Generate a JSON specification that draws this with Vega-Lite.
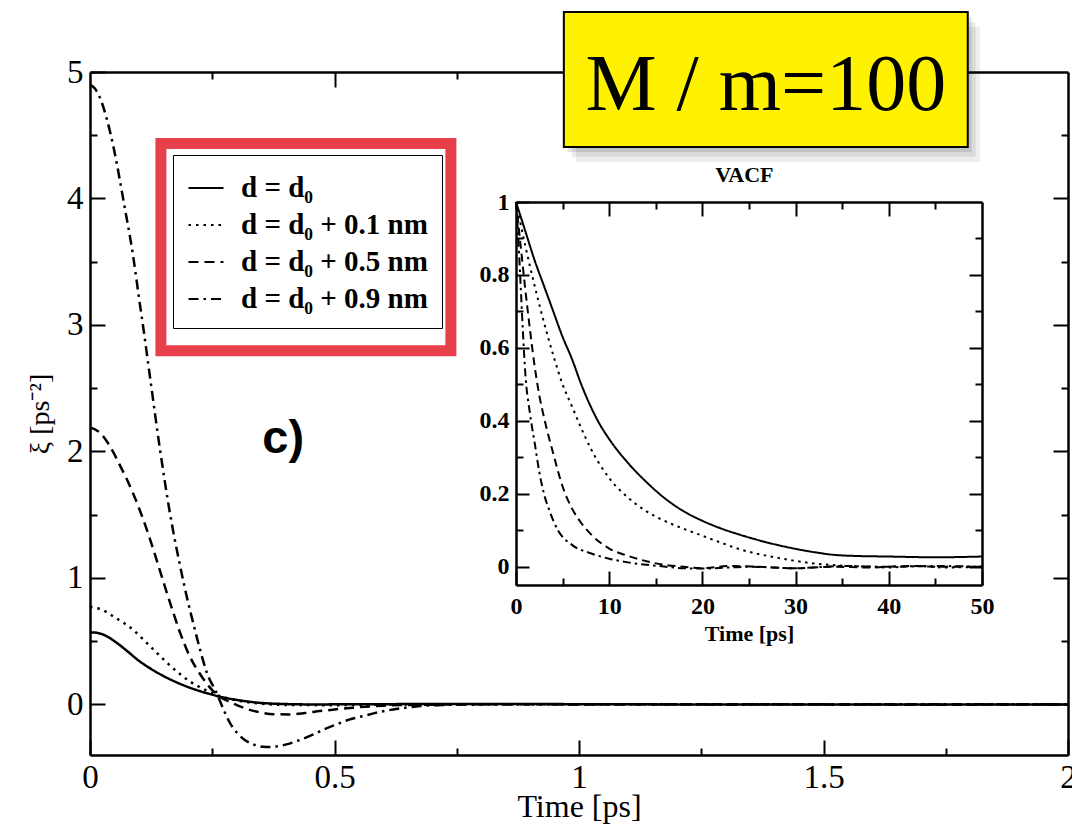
{
  "$schema": "https://vega.github.io/schema/vega-lite/v6.json",
  "width": 978,
  "height": 683,
  "autosize": "none",
  "padding": {"left": 90, "top": 72, "right": 4, "bottom": 73},
  "background": "white",
  "config": {
    "view": {"stroke": null},
    "axis": {
      "grid": false, "domainColor": "black", "domainWidth": 2.5, "tickColor": "black", "tickWidth": 2,
      "labelColor": "black", "titleColor": "black", "labelFont": "Liberation Serif", "titleFont": "Liberation Serif",
      "labelFlush": false, "labelOverlap": false, "titleFontWeight": "normal"
    }
  },
  "datasets": {
    "main": [
      {"series": "d = d₀", "t": 0, "v": 0.57}, {"series": "d = d₀", "t": 0.0125, "v": 0.567}, {"series": "d = d₀", "t": 0.025, "v": 0.555}, {"series": "d = d₀", "t": 0.0375, "v": 0.532}, {"series": "d = d₀", "t": 0.05, "v": 0.5},
      {"series": "d = d₀", "t": 0.075, "v": 0.425}, {"series": "d = d₀", "t": 0.1, "v": 0.345}, {"series": "d = d₀", "t": 0.125, "v": 0.28},
      {"series": "d = d₀", "t": 0.15, "v": 0.225}, {"series": "d = d₀", "t": 0.175, "v": 0.178}, {"series": "d = d₀", "t": 0.2, "v": 0.138},
      {"series": "d = d₀", "t": 0.225, "v": 0.105}, {"series": "d = d₀", "t": 0.25, "v": 0.077}, {"series": "d = d₀", "t": 0.275, "v": 0.053},
      {"series": "d = d₀", "t": 0.3, "v": 0.036}, {"series": "d = d₀", "t": 0.34, "v": 0.015}, {"series": "d = d₀", "t": 0.39, "v": 0.004},
      {"series": "d = d₀", "t": 0.45, "v": 0}, {"series": "d = d₀", "t": 0.6, "v": 0.002}, {"series": "d = d₀", "t": 0.8, "v": 0.003},
      {"series": "d = d₀", "t": 1.0, "v": 0.002}, {"series": "d = d₀", "t": 1.2, "v": 0}, {"series": "d = d₀", "t": 1.5, "v": 0},
      {"series": "d = d₀", "t": 1.8, "v": 0}, {"series": "d = d₀", "t": 2, "v": 0},

      {"series": "d = d₀ + 0.1 nm", "t": 0, "v": 0.77}, {"series": "d = d₀ + 0.1 nm", "t": 0.02, "v": 0.755}, {"series": "d = d₀ + 0.1 nm", "t": 0.05, "v": 0.69},
      {"series": "d = d₀ + 0.1 nm", "t": 0.088, "v": 0.59}, {"series": "d = d₀ + 0.1 nm", "t": 0.11, "v": 0.51}, {"series": "d = d₀ + 0.1 nm", "t": 0.136, "v": 0.41},
      {"series": "d = d₀ + 0.1 nm", "t": 0.16, "v": 0.32}, {"series": "d = d₀ + 0.1 nm", "t": 0.184, "v": 0.24}, {"series": "d = d₀ + 0.1 nm", "t": 0.205, "v": 0.18},
      {"series": "d = d₀ + 0.1 nm", "t": 0.225, "v": 0.135}, {"series": "d = d₀ + 0.1 nm", "t": 0.252, "v": 0.085}, {"series": "d = d₀ + 0.1 nm", "t": 0.28, "v": 0.05},
      {"series": "d = d₀ + 0.1 nm", "t": 0.31, "v": 0.025}, {"series": "d = d₀ + 0.1 nm", "t": 0.35, "v": 0.006}, {"series": "d = d₀ + 0.1 nm", "t": 0.4, "v": -0.004},
      {"series": "d = d₀ + 0.1 nm", "t": 0.5, "v": -0.006}, {"series": "d = d₀ + 0.1 nm", "t": 0.6, "v": -0.002}, {"series": "d = d₀ + 0.1 nm", "t": 0.7, "v": 0},
      {"series": "d = d₀ + 0.1 nm", "t": 1.0, "v": 0.002}, {"series": "d = d₀ + 0.1 nm", "t": 1.3, "v": 0}, {"series": "d = d₀ + 0.1 nm", "t": 1.6, "v": 0},
      {"series": "d = d₀ + 0.1 nm", "t": 2, "v": 0},

      {"series": "d = d₀ + 0.5 nm", "t": 0, "v": 2.19}, {"series": "d = d₀ + 0.5 nm", "t": 0.02, "v": 2.15}, {"series": "d = d₀ + 0.5 nm", "t": 0.041, "v": 2.04},
      {"series": "d = d₀ + 0.5 nm", "t": 0.06, "v": 1.9}, {"series": "d = d₀ + 0.5 nm", "t": 0.088, "v": 1.67}, {"series": "d = d₀ + 0.5 nm", "t": 0.11, "v": 1.45},
      {"series": "d = d₀ + 0.5 nm", "t": 0.13, "v": 1.22}, {"series": "d = d₀ + 0.5 nm", "t": 0.15, "v": 0.97}, {"series": "d = d₀ + 0.5 nm", "t": 0.17, "v": 0.73},
      {"series": "d = d₀ + 0.5 nm", "t": 0.184, "v": 0.57}, {"series": "d = d₀ + 0.5 nm", "t": 0.204, "v": 0.38}, {"series": "d = d₀ + 0.5 nm", "t": 0.225, "v": 0.24},
      {"series": "d = d₀ + 0.5 nm", "t": 0.252, "v": 0.105}, {"series": "d = d₀ + 0.5 nm", "t": 0.27, "v": 0.05}, {"series": "d = d₀ + 0.5 nm", "t": 0.286, "v": 0.02},
      {"series": "d = d₀ + 0.5 nm", "t": 0.32, "v": -0.035}, {"series": "d = d₀ + 0.5 nm", "t": 0.35, "v": -0.065}, {"series": "d = d₀ + 0.5 nm", "t": 0.375, "v": -0.078},
      {"series": "d = d₀ + 0.5 nm", "t": 0.409, "v": -0.079}, {"series": "d = d₀ + 0.5 nm", "t": 0.44, "v": -0.068}, {"series": "d = d₀ + 0.5 nm", "t": 0.47, "v": -0.053},
      {"series": "d = d₀ + 0.5 nm", "t": 0.5, "v": -0.04}, {"series": "d = d₀ + 0.5 nm", "t": 0.538, "v": -0.026}, {"series": "d = d₀ + 0.5 nm", "t": 0.6, "v": -0.01},
      {"series": "d = d₀ + 0.5 nm", "t": 0.7, "v": -0.002}, {"series": "d = d₀ + 0.5 nm", "t": 0.8, "v": 0.002}, {"series": "d = d₀ + 0.5 nm", "t": 1.0, "v": 0},
      {"series": "d = d₀ + 0.5 nm", "t": 1.2, "v": 0.002}, {"series": "d = d₀ + 0.5 nm", "t": 1.5, "v": 0}, {"series": "d = d₀ + 0.5 nm", "t": 1.7, "v": -0.002},
      {"series": "d = d₀ + 0.5 nm", "t": 2, "v": 0},

      {"series": "d = d₀ + 0.9 nm", "t": 0, "v": 4.9}, {"series": "d = d₀ + 0.9 nm", "t": 0.01, "v": 4.87}, {"series": "d = d₀ + 0.9 nm", "t": 0.02, "v": 4.8},
      {"series": "d = d₀ + 0.9 nm", "t": 0.035, "v": 4.62}, {"series": "d = d₀ + 0.9 nm", "t": 0.05, "v": 4.37}, {"series": "d = d₀ + 0.9 nm", "t": 0.07, "v": 3.95},
      {"series": "d = d₀ + 0.9 nm", "t": 0.088, "v": 3.55}, {"series": "d = d₀ + 0.9 nm", "t": 0.1, "v": 3.22}, {"series": "d = d₀ + 0.9 nm", "t": 0.11, "v": 2.95},
      {"series": "d = d₀ + 0.9 nm", "t": 0.123, "v": 2.58}, {"series": "d = d₀ + 0.9 nm", "t": 0.143, "v": 2.02}, {"series": "d = d₀ + 0.9 nm", "t": 0.164, "v": 1.5},
      {"series": "d = d₀ + 0.9 nm", "t": 0.184, "v": 1.1}, {"series": "d = d₀ + 0.9 nm", "t": 0.198, "v": 0.85}, {"series": "d = d₀ + 0.9 nm", "t": 0.211, "v": 0.645},
      {"series": "d = d₀ + 0.9 nm", "t": 0.225, "v": 0.434}, {"series": "d = d₀ + 0.9 nm", "t": 0.239, "v": 0.25}, {"series": "d = d₀ + 0.9 nm", "t": 0.259, "v": 0.09},
      {"series": "d = d₀ + 0.9 nm", "t": 0.273, "v": -0.04}, {"series": "d = d₀ + 0.9 nm", "t": 0.286, "v": -0.145}, {"series": "d = d₀ + 0.9 nm", "t": 0.307, "v": -0.25},
      {"series": "d = d₀ + 0.9 nm", "t": 0.334, "v": -0.316}, {"series": "d = d₀ + 0.9 nm", "t": 0.355, "v": -0.335}, {"series": "d = d₀ + 0.9 nm", "t": 0.368, "v": -0.337},
      {"series": "d = d₀ + 0.9 nm", "t": 0.385, "v": -0.33}, {"series": "d = d₀ + 0.9 nm", "t": 0.402, "v": -0.316}, {"series": "d = d₀ + 0.9 nm", "t": 0.43, "v": -0.28},
      {"series": "d = d₀ + 0.9 nm", "t": 0.457, "v": -0.237}, {"series": "d = d₀ + 0.9 nm", "t": 0.48, "v": -0.195}, {"series": "d = d₀ + 0.9 nm", "t": 0.504, "v": -0.158},
      {"series": "d = d₀ + 0.9 nm", "t": 0.53, "v": -0.12}, {"series": "d = d₀ + 0.9 nm", "t": 0.559, "v": -0.092}, {"series": "d = d₀ + 0.9 nm", "t": 0.59, "v": -0.062},
      {"series": "d = d₀ + 0.9 nm", "t": 0.62, "v": -0.04}, {"series": "d = d₀ + 0.9 nm", "t": 0.65, "v": -0.024}, {"series": "d = d₀ + 0.9 nm", "t": 0.675, "v": -0.013},
      {"series": "d = d₀ + 0.9 nm", "t": 0.72, "v": -0.005}, {"series": "d = d₀ + 0.9 nm", "t": 0.8, "v": 0}, {"series": "d = d₀ + 0.9 nm", "t": 1.0, "v": 0.002},
      {"series": "d = d₀ + 0.9 nm", "t": 1.3, "v": 0}, {"series": "d = d₀ + 0.9 nm", "t": 1.6, "v": 0.002}, {"series": "d = d₀ + 0.9 nm", "t": 2, "v": 0}
    ],
    "inset": [
      {"series": "d = d₀", "t": 0, "v": 1}, {"series": "d = d₀", "t": 1, "v": 0.92}, {"series": "d = d₀", "t": 2, "v": 0.84},
      {"series": "d = d₀", "t": 3, "v": 0.77}, {"series": "d = d₀", "t": 4, "v": 0.7}, {"series": "d = d₀", "t": 5, "v": 0.63},
      {"series": "d = d₀", "t": 6, "v": 0.57}, {"series": "d = d₀", "t": 7, "v": 0.5}, {"series": "d = d₀", "t": 8, "v": 0.44},
      {"series": "d = d₀", "t": 9, "v": 0.39}, {"series": "d = d₀", "t": 10, "v": 0.35}, {"series": "d = d₀", "t": 12, "v": 0.285},
      {"series": "d = d₀", "t": 14, "v": 0.232}, {"series": "d = d₀", "t": 16, "v": 0.187}, {"series": "d = d₀", "t": 18, "v": 0.152},
      {"series": "d = d₀", "t": 20, "v": 0.126}, {"series": "d = d₀", "t": 22, "v": 0.105}, {"series": "d = d₀", "t": 24, "v": 0.088},
      {"series": "d = d₀", "t": 26, "v": 0.073}, {"series": "d = d₀", "t": 28, "v": 0.06}, {"series": "d = d₀", "t": 30, "v": 0.049},
      {"series": "d = d₀", "t": 32, "v": 0.04}, {"series": "d = d₀", "t": 34, "v": 0.033}, {"series": "d = d₀", "t": 36, "v": 0.03},
      {"series": "d = d₀", "t": 40, "v": 0.028}, {"series": "d = d₀", "t": 45, "v": 0.026}, {"series": "d = d₀", "t": 50, "v": 0.028},

      {"series": "d = d₀ + 0.1 nm", "t": 0, "v": 1}, {"series": "d = d₀ + 0.1 nm", "t": 1, "v": 0.88}, {"series": "d = d₀ + 0.1 nm", "t": 2, "v": 0.77},
      {"series": "d = d₀ + 0.1 nm", "t": 3, "v": 0.67}, {"series": "d = d₀ + 0.1 nm", "t": 4, "v": 0.58}, {"series": "d = d₀ + 0.1 nm", "t": 5, "v": 0.5},
      {"series": "d = d₀ + 0.1 nm", "t": 6, "v": 0.44}, {"series": "d = d₀ + 0.1 nm", "t": 7, "v": 0.38}, {"series": "d = d₀ + 0.1 nm", "t": 8, "v": 0.325},
      {"series": "d = d₀ + 0.1 nm", "t": 9, "v": 0.28}, {"series": "d = d₀ + 0.1 nm", "t": 10, "v": 0.243}, {"series": "d = d₀ + 0.1 nm", "t": 12, "v": 0.19},
      {"series": "d = d₀ + 0.1 nm", "t": 14, "v": 0.152}, {"series": "d = d₀ + 0.1 nm", "t": 16, "v": 0.125}, {"series": "d = d₀ + 0.1 nm", "t": 18, "v": 0.104},
      {"series": "d = d₀ + 0.1 nm", "t": 20, "v": 0.085}, {"series": "d = d₀ + 0.1 nm", "t": 22, "v": 0.066}, {"series": "d = d₀ + 0.1 nm", "t": 24, "v": 0.048},
      {"series": "d = d₀ + 0.1 nm", "t": 26, "v": 0.035}, {"series": "d = d₀ + 0.1 nm", "t": 28, "v": 0.025}, {"series": "d = d₀ + 0.1 nm", "t": 30, "v": 0.016},
      {"series": "d = d₀ + 0.1 nm", "t": 32, "v": 0.009}, {"series": "d = d₀ + 0.1 nm", "t": 35, "v": 0.003}, {"series": "d = d₀ + 0.1 nm", "t": 38, "v": 0},
      {"series": "d = d₀ + 0.1 nm", "t": 40, "v": -0.002}, {"series": "d = d₀ + 0.1 nm", "t": 43, "v": 0.002}, {"series": "d = d₀ + 0.1 nm", "t": 46, "v": -0.002},
      {"series": "d = d₀ + 0.1 nm", "t": 50, "v": 0},

      {"series": "d = d₀ + 0.5 nm", "t": 0, "v": 1}, {"series": "d = d₀ + 0.5 nm", "t": 0.5, "v": 0.88}, {"series": "d = d₀ + 0.5 nm", "t": 1, "v": 0.76},
      {"series": "d = d₀ + 0.5 nm", "t": 1.5, "v": 0.65}, {"series": "d = d₀ + 0.5 nm", "t": 2, "v": 0.55}, {"series": "d = d₀ + 0.5 nm", "t": 2.5, "v": 0.47},
      {"series": "d = d₀ + 0.5 nm", "t": 3, "v": 0.41}, {"series": "d = d₀ + 0.5 nm", "t": 4, "v": 0.31}, {"series": "d = d₀ + 0.5 nm", "t": 5, "v": 0.22},
      {"series": "d = d₀ + 0.5 nm", "t": 6, "v": 0.16}, {"series": "d = d₀ + 0.5 nm", "t": 7, "v": 0.12}, {"series": "d = d₀ + 0.5 nm", "t": 8, "v": 0.09},
      {"series": "d = d₀ + 0.5 nm", "t": 10, "v": 0.05}, {"series": "d = d₀ + 0.5 nm", "t": 12, "v": 0.03}, {"series": "d = d₀ + 0.5 nm", "t": 14, "v": 0.015},
      {"series": "d = d₀ + 0.5 nm", "t": 16, "v": 0.005}, {"series": "d = d₀ + 0.5 nm", "t": 18, "v": 0}, {"series": "d = d₀ + 0.5 nm", "t": 20, "v": -0.004},
      {"series": "d = d₀ + 0.5 nm", "t": 23, "v": 0.002}, {"series": "d = d₀ + 0.5 nm", "t": 26, "v": 0}, {"series": "d = d₀ + 0.5 nm", "t": 30, "v": -0.004},
      {"series": "d = d₀ + 0.5 nm", "t": 34, "v": 0}, {"series": "d = d₀ + 0.5 nm", "t": 38, "v": -0.002}, {"series": "d = d₀ + 0.5 nm", "t": 42, "v": 0.002},
      {"series": "d = d₀ + 0.5 nm", "t": 46, "v": 0}, {"series": "d = d₀ + 0.5 nm", "t": 50, "v": 0},

      {"series": "d = d₀ + 0.9 nm", "t": 0, "v": 1}, {"series": "d = d₀ + 0.9 nm", "t": 0.25, "v": 0.9}, {"series": "d = d₀ + 0.9 nm", "t": 0.5, "v": 0.77},
      {"series": "d = d₀ + 0.9 nm", "t": 0.75, "v": 0.64}, {"series": "d = d₀ + 0.9 nm", "t": 1, "v": 0.53}, {"series": "d = d₀ + 0.9 nm", "t": 1.5, "v": 0.42},
      {"series": "d = d₀ + 0.9 nm", "t": 2, "v": 0.34}, {"series": "d = d₀ + 0.9 nm", "t": 2.5, "v": 0.26}, {"series": "d = d₀ + 0.9 nm", "t": 3, "v": 0.2},
      {"series": "d = d₀ + 0.9 nm", "t": 3.5, "v": 0.16}, {"series": "d = d₀ + 0.9 nm", "t": 4.5, "v": 0.1}, {"series": "d = d₀ + 0.9 nm", "t": 6, "v": 0.06},
      {"series": "d = d₀ + 0.9 nm", "t": 8, "v": 0.037}, {"series": "d = d₀ + 0.9 nm", "t": 10, "v": 0.022}, {"series": "d = d₀ + 0.9 nm", "t": 12, "v": 0.012},
      {"series": "d = d₀ + 0.9 nm", "t": 15, "v": 0.003}, {"series": "d = d₀ + 0.9 nm", "t": 18, "v": -0.004}, {"series": "d = d₀ + 0.9 nm", "t": 20, "v": -0.005},
      {"series": "d = d₀ + 0.9 nm", "t": 25, "v": 0}, {"series": "d = d₀ + 0.9 nm", "t": 30, "v": -0.004}, {"series": "d = d₀ + 0.9 nm", "t": 35, "v": 0.002},
      {"series": "d = d₀ + 0.9 nm", "t": 40, "v": 0}, {"series": "d = d₀ + 0.9 nm", "t": 45, "v": 0.002}, {"series": "d = d₀ + 0.9 nm", "t": 50, "v": 0}
    ]
  },
  "layer": [
    {
      "data": {"values": [{}]},
      "mark": {"type": "rect", "fill": "white", "stroke": "#e8404a", "strokeWidth": 11},
      "encoding": {
        "x": {"datum": 0.145, "type": "quantitative", "scale": {"domain": [0, 2], "nice": false, "zero": false}, "axis": null}, "x2": {"datum": 0.738},
        "y": {"datum": 4.435, "type": "quantitative", "scale": {"domain": [-0.4, 5], "nice": false, "zero": false}, "axis": null}, "y2": {"datum": 2.796}
      }
    },
    {
      "data": {"name": "main"},
      "mark": {"type": "line", "stroke": "black", "strokeWidth": 2.5, "interpolate": "monotone"},
      "encoding": {
        "x": {"field": "t", "type": "quantitative", "scale": {"domain": [0, 2], "nice": false, "zero": false}, "axis": {"orient": "bottom", "values": [0, 0.5, 1, 1.5, 2], "format": "~g", "tickSize": -15, "labelPadding": 21, "labelFontSize": 33, "title": "Time [ps]", "titleFontSize": 32, "titleColor": "black", "titleX": 489, "titleY": 51, "titleBaseline": "middle", "titleAlign": "center"}},
        "y": {"field": "v", "type": "quantitative", "scale": {"domain": [-0.4, 5], "nice": false, "zero": false}, "axis": {"orient": "left", "values": [0, 1, 2, 3, 4, 5], "format": "~g", "tickSize": -15, "labelPadding": 22, "labelFontSize": 33, "title": "ξ [ps⁻²]", "titleColor": "black", "titleFontSize": 28, "titleAngle": 270, "titleX": -50, "titleY": 341.5, "titleBaseline": "middle", "titleAlign": "center"}},
        "detail": {"field": "series"},
        "strokeDash": {
          "field": "series", "type": "nominal",
          "scale": {"domain": ["d = d₀", "d = d₀ + 0.1 nm", "d = d₀ + 0.5 nm", "d = d₀ + 0.9 nm"], "range": [[1, 0], [2.5, 5], [10, 6], [10, 5, 2.5, 5]]},
          "legend": {"title": null, "orient": "none", "legendX": 83, "legendY": 83, "direction": "vertical", "symbolType": "stroke", "symbolSize": 1225, "symbolStrokeWidth": 2.2, "symbolStrokeColor": "black", "labelFont": "Liberation Serif", "labelFontSize": 29, "labelFontWeight": "bold", "labelColor": "black", "labelOffset": 16, "rowPadding": 3, "padding": 14, "strokeColor": "black", "fillColor": "white", "labelLimit": 400}
        }
      }
    },
    {
      "data": {"name": "main"},
      "mark": {"type": "line", "opacity": 0},
      "encoding": {
        "x": {"field": "t", "type": "quantitative", "scale": {"domain": [0, 2], "nice": false, "zero": false}, "axis": {"orient": "bottom", "values": [0.25, 0.75, 1.25, 1.75], "tickSize": -7, "labels": false, "domain": false, "title": null}},
        "y": {"field": "v", "type": "quantitative", "scale": {"domain": [-0.4, 5], "nice": false, "zero": false}, "axis": {"orient": "left", "values": [0.5, 1.5, 2.5, 3.5, 4.5], "tickSize": -7, "labels": false, "domain": false, "title": null}},
        "detail": {"field": "series"}
      }
    },
    {
      "data": {"name": "main"},
      "mark": {"type": "line", "opacity": 0},
      "encoding": {
        "x": {"field": "t", "type": "quantitative", "scale": {"domain": [0, 2], "nice": false, "zero": false}, "axis": {"orient": "top", "values": [0.5, 1, 1.5], "tickSize": -15, "labels": false, "title": null}},
        "y": {"field": "v", "type": "quantitative", "scale": {"domain": [-0.4, 5], "nice": false, "zero": false}, "axis": {"orient": "right", "values": [0, 1, 2, 3, 4], "tickSize": -15, "labels": false, "title": null}},
        "detail": {"field": "series"}
      }
    },
    {
      "data": {"name": "main"},
      "mark": {"type": "line", "opacity": 0},
      "encoding": {
        "x": {"field": "t", "type": "quantitative", "scale": {"domain": [0, 2], "nice": false, "zero": false}, "axis": {"orient": "top", "values": [0.25, 0.75, 1.25, 1.75], "tickSize": -7, "labels": false, "domain": false, "title": null}},
        "y": {"field": "v", "type": "quantitative", "scale": {"domain": [-0.4, 5], "nice": false, "zero": false}, "axis": {"orient": "right", "values": [0.5, 1.5, 2.5, 3.5, 4.5], "tickSize": -7, "labels": false, "domain": false, "title": null}},
        "detail": {"field": "series"}
      }
    },
    {
      "data": {"values": [{}]},
      "mark": {"type": "text", "text": "c)", "font": "Liberation Sans", "fontWeight": "bold", "fontSize": 47, "align": "center", "baseline": "middle", "color": "black"},
      "encoding": {
        "x": {"datum": 0.395, "type": "quantitative", "scale": {"domain": [0, 2], "nice": false, "zero": false}, "axis": null},
        "y": {"datum": 2.1, "type": "quantitative", "scale": {"domain": [-0.4, 5], "nice": false, "zero": false}, "axis": null}
      }
    },
    {
      "data": {"values": [{}]},
      "mark": {"type": "rect", "fill": "black", "opacity": 0.07},
      "encoding": {
        "x": {"datum": 0.994, "type": "quantitative", "scale": {"domain": [0, 2], "nice": false, "zero": false}, "axis": null}, "x2": {"datum": 1.82},
        "y": {"datum": 5.356, "type": "quantitative", "scale": {"domain": [-0.4, 5], "nice": false, "zero": false}, "axis": null}, "y2": {"datum": 4.289}
      }
    },
    {
      "data": {"values": [{}]},
      "mark": {"type": "rect", "fill": "black", "opacity": 0.08},
      "encoding": {
        "x": {"datum": 0.985, "type": "quantitative", "scale": {"domain": [0, 2], "nice": false, "zero": false}, "axis": null}, "x2": {"datum": 1.811},
        "y": {"datum": 5.395, "type": "quantitative", "scale": {"domain": [-0.4, 5], "nice": false, "zero": false}, "axis": null}, "y2": {"datum": 4.329}
      }
    },
    {
      "data": {"values": [{}]},
      "mark": {"type": "rect", "fill": "black", "opacity": 0.1},
      "encoding": {
        "x": {"datum": 0.977, "type": "quantitative", "scale": {"domain": [0, 2], "nice": false, "zero": false}, "axis": null}, "x2": {"datum": 1.803},
        "y": {"datum": 5.435, "type": "quantitative", "scale": {"domain": [-0.4, 5], "nice": false, "zero": false}, "axis": null}, "y2": {"datum": 4.368}
      }
    },
    {
      "data": {"values": [{}]},
      "mark": {"type": "rect", "fill": "#fff200", "stroke": "black", "strokeWidth": 2},
      "encoding": {
        "x": {"datum": 0.969, "type": "quantitative", "scale": {"domain": [0, 2], "nice": false, "zero": false}, "axis": null}, "x2": {"datum": 1.795},
        "y": {"datum": 5.474, "type": "quantitative", "scale": {"domain": [-0.4, 5], "nice": false, "zero": false}, "axis": null}, "y2": {"datum": 4.408}
      }
    },
    {
      "data": {"values": [{}]},
      "mark": {"type": "text", "text": "M / m=100", "font": "Liberation Serif", "fontSize": 80, "align": "center", "baseline": "alphabetic", "color": "black"},
      "encoding": {
        "x": {"datum": 1.382, "type": "quantitative", "scale": {"domain": [0, 2], "nice": false, "zero": false}, "axis": null},
        "y": {"datum": 4.70, "type": "quantitative", "scale": {"domain": [-0.4, 5], "nice": false, "zero": false}, "axis": null}
      }
    },
    {
      "data": {"name": "inset"},
      "mark": {"type": "line", "stroke": "black", "strokeWidth": 2, "interpolate": "monotone"},
      "encoding": {
        "x": {"field": "t", "type": "quantitative", "scale": {"domain": [0, 50], "range": [426, 892], "nice": false, "zero": false}, "axis": {"orient": "bottom", "offset": -170, "values": [0, 10, 20, 30, 40, 50], "tickSize": -14, "labelPadding": 23, "labelFontSize": 24, "labelFontWeight": "bold", "title": "Time [ps]", "titleColor": "black", "titleFontSize": 22, "titleFontWeight": "bold", "titleX": 659, "titleY": 48, "titleBaseline": "middle", "titleAlign": "center"}},
        "y": {"field": "v", "type": "quantitative", "scale": {"domain": [-0.05, 1], "range": [513, 130], "nice": false, "zero": false}, "axis": {"orient": "left", "offset": -426, "values": [0, 0.2, 0.4, 0.6, 0.8, 1], "format": "~g", "tickSize": -13, "labelPadding": 20, "labelFontSize": 24, "labelFontWeight": "bold", "title": null}},
        "detail": {"field": "series"},
        "strokeDash": {
          "field": "series", "type": "nominal",
          "scale": {"domain": ["d = d₀", "d = d₀ + 0.1 nm", "d = d₀ + 0.5 nm", "d = d₀ + 0.9 nm"], "range": [[1, 0], [2.5, 4.5], [8, 5], [8, 4, 2.5, 4]]},
          "legend": null
        }
      }
    },
    {
      "data": {"name": "inset"},
      "mark": {"type": "line", "opacity": 0},
      "encoding": {
        "x": {"field": "t", "type": "quantitative", "scale": {"domain": [0, 50], "range": [426, 892], "nice": false, "zero": false}, "axis": {"orient": "bottom", "offset": -170, "values": [5, 15, 25, 35, 45], "tickSize": -7, "labels": false, "domain": false, "title": null}},
        "y": {"field": "v", "type": "quantitative", "scale": {"domain": [-0.05, 1], "range": [513, 130], "nice": false, "zero": false}, "axis": {"orient": "left", "offset": -426, "values": [0.1, 0.3, 0.5, 0.7, 0.9], "tickSize": -7, "labels": false, "domain": false, "title": null}},
        "detail": {"field": "series"}
      }
    },
    {
      "data": {"name": "inset"},
      "mark": {"type": "line", "opacity": 0},
      "encoding": {
        "x": {"field": "t", "type": "quantitative", "scale": {"domain": [0, 50], "range": [426, 892], "nice": false, "zero": false}, "axis": {"orient": "top", "offset": -130, "values": [10, 20, 30, 40], "tickSize": -14, "labels": false, "title": null}},
        "y": {"field": "v", "type": "quantitative", "scale": {"domain": [-0.05, 1], "range": [513, 130], "nice": false, "zero": false}, "axis": {"orient": "right", "offset": -86, "values": [0, 0.2, 0.4, 0.6, 0.8], "tickSize": -13, "labels": false, "title": null}},
        "detail": {"field": "series"}
      }
    },
    {
      "data": {"name": "inset"},
      "mark": {"type": "line", "opacity": 0},
      "encoding": {
        "x": {"field": "t", "type": "quantitative", "scale": {"domain": [0, 50], "range": [426, 892], "nice": false, "zero": false}, "axis": {"orient": "top", "offset": -130, "values": [5, 15, 25, 35, 45], "tickSize": -7, "labels": false, "domain": false, "title": null}},
        "y": {"field": "v", "type": "quantitative", "scale": {"domain": [-0.05, 1], "range": [513, 130], "nice": false, "zero": false}, "axis": {"orient": "right", "offset": -86, "values": [0.1, 0.3, 0.5, 0.7, 0.9], "tickSize": -7, "labels": false, "domain": false, "title": null}},
        "detail": {"field": "series"}
      }
    },
    {
      "data": {"values": [{}]},
      "mark": {"type": "text", "text": "VACF", "font": "Liberation Serif", "fontWeight": "bold", "fontSize": 22, "align": "center", "baseline": "middle", "color": "black"},
      "encoding": {
        "x": {"datum": 24.5, "type": "quantitative", "scale": {"domain": [0, 50], "range": [426, 892], "nice": false, "zero": false}, "axis": null},
        "y": {"datum": 1.075, "type": "quantitative", "scale": {"domain": [-0.05, 1], "range": [513, 130], "nice": false, "zero": false}, "axis": null}
      }
    }
  ],
  "resolve": {"scale": {"x": "independent", "y": "independent", "strokeDash": "independent"}}
}
